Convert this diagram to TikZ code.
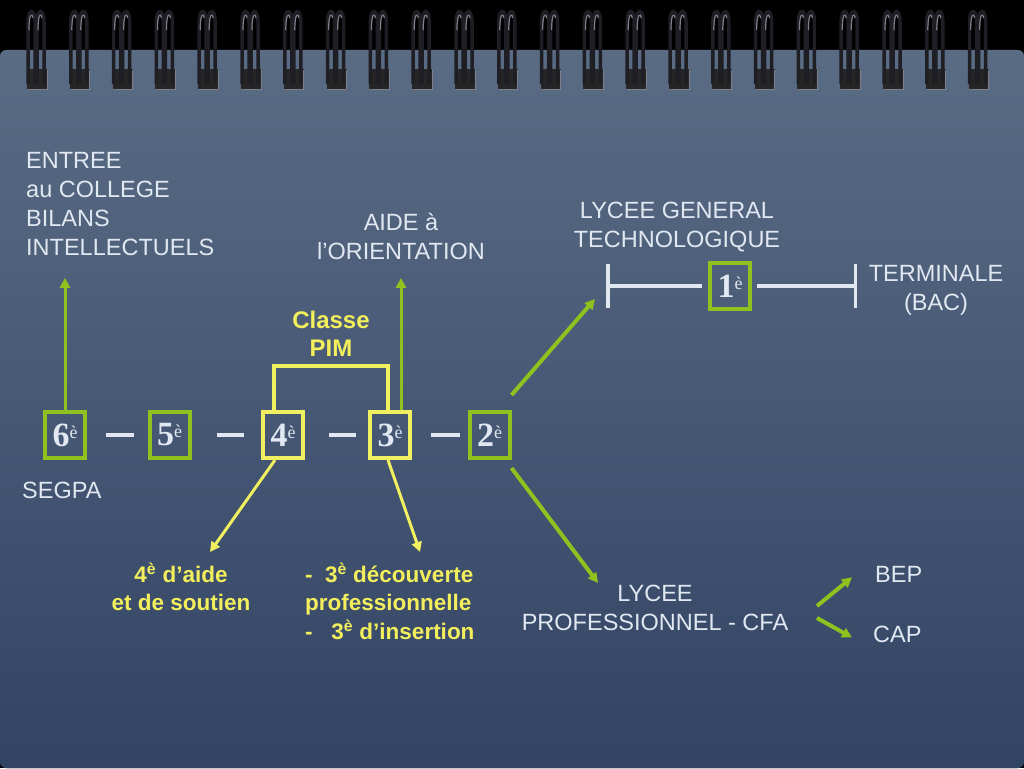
\documentclass[tikz,border=0pt]{standalone}
\usepackage{fontspec}
\setmainfont{Liberation Sans}
\newfontfamily\serifbf{Liberation Serif}
\usetikzlibrary{arrows.meta}
\definecolor{craie}{RGB}{226,232,242}
\definecolor{vert}{RGB}{141,194,31}
\definecolor{jaune}{RGB}{240,240,96}
\definecolor{jaunetxt}{RGB}{242,238,92}
\definecolor{pagehaut}{RGB}{90,108,132}
\definecolor{pagemil}{RGB}{68,86,112}
\definecolor{pagebas}{RGB}{50,68,100}
\definecolor{anneau}{RGB}{30,30,36}
\definecolor{reflet}{RGB}{125,127,138}
\newcommand\niveau[1]{#1\raisebox{8pt}{\fontsize{18}{18}\selectfont\mdseries è}}
\tikzset{
  classe/.style={draw=#1, line width=4pt, minimum width=40pt, minimum height=46pt,
    inner sep=0pt, text=craie, font=\serifbf\bfseries\fontsize{34}{34}\selectfont},
  blanc/.style={text=craie, inner sep=0pt, font=\fontsize{23.5}{29}\selectfont, align=center},
  jaunebf/.style={text=jaunetxt, inner sep=0pt, font=\bfseries\fontsize{22.5}{28.5}\selectfont, align=center},
  trait/.style={draw=craie, line width=3.5pt},
  fleche/.style={draw=#1, line width=3pt, -{Triangle[length=10pt,width=10pt]}},
}
\begin{document}
\begin{tikzpicture}[x=1pt, y=-1pt]
\useasboundingbox (0,0) rectangle (1024,768);
% fond et carnet
\fill[black] (0,0) rectangle (1024,768);
\fill[rounded corners=6pt, top color=pagehaut, middle color=pagemil, bottom color=pagebas]
  (0,768) -- (0,50) -- (1024,50) -- (1024,768) -- cycle;
\foreach \i in {0,...,22} {
  \pgfmathsetmacro\cx{37+42.8*\i}
  \fill[black!85] (\cx-10,69) rectangle (\cx+10,89);
  \draw[reflet, line width=1pt] (\cx+10,70) -- (\cx+10,89) -- (\cx-9,89);
  \foreach \dx in {-9,0} {
    \draw[anneau, line width=3.5pt] (\cx+\dx,84) -- (\cx+\dx,22)
      .. controls (\cx+\dx,8) and (\cx+\dx+7,8) .. (\cx+\dx+7,22) -- (\cx+\dx+7,84);
    \draw[reflet, line width=1.2pt] (\cx+\dx+1,30) .. controls (\cx+\dx+1,14) and (\cx+\dx+4,12) .. (\cx+\dx+5,18);
  }
}
% classes
\node[classe=vert] (b6) at (65,435) {\niveau{6}};
\node[classe=vert] (b5) at (169.5,435) {\niveau{5}};
\node[classe=jaune] (b4) at (283,435) {\niveau{4}};
\node[classe=jaune] (b3) at (390,435) {\niveau{3}};
\node[classe=vert] (b2) at (489.5,435) {\niveau{2}};
\node[classe=vert] (b1) at (730,286) {\niveau{1}};
\draw[trait, shorten <=19pt, shorten >=14pt] (b6) -- (b5);
\draw[trait, shorten <=25pt, shorten >=17pt] (b5) -- (b4);
\draw[trait, shorten <=24pt, shorten >=12pt] (b4) -- (b3);
\draw[trait, shorten <=19pt, shorten >=8pt] (b3) -- (b2);
% textes
\node[blanc, align=left, anchor=north west] (entree) at (26,152) {ENTREE\\au COLLEGE\\BILANS\\INTELLECTUELS};
\node[blanc, anchor=north] (aide) at (401,213) {AIDE à\\l’ORIENTATION};
\node[blanc, anchor=north] (lycgen) at (677,202) {LYCEE GENERAL\\TECHNOLOGIQUE};
\node[blanc, anchor=north] (term) at (936,265) {TERMINALE\\(BAC)};
\node[blanc, anchor=north west] (segpa) at (22,482) {SEGPA};
\node[blanc, anchor=north] (lycpro) at (655,585) {LYCEE\\PROFESSIONNEL - CFA};
\node[blanc, anchor=north west] (bep) at (875,566) {BEP};
\node[blanc, anchor=north west] (cap) at (873,626) {CAP};
\node[jaunebf, font=\bfseries\fontsize{24}{28}\selectfont, anchor=north] (pim) at (331,311) {Classe\\PIM};
\node[jaunebf, anchor=north] (aide4) at (181,563) {4\textsuperscript{è} d’aide\\et de soutien};
\node[jaunebf, align=left, anchor=north west] (decouv) at (305,563)
  {-\ \ 3\textsuperscript{è} découverte\\professionnelle\\-\ \ \ 3\textsuperscript{è} d’insertion};
% lycee general
\coordinate (lbar) at (606,286);
\coordinate (rbar) at (857,286);
\draw[trait, {Bar[width=44pt]}-, shorten >=6pt] (lbar) -- (b1);
\draw[trait, {Bar[width=44pt]}-, shorten >=5pt] (rbar) -- (b1);
% liens
\draw[fleche=vert, shorten >=22pt] (b6.north) -- (b6.north |- entree.south);
\draw[fleche=vert, shorten >=18pt] (b3.north -| aide.south) -- (aide.south);
\draw[jaune, line width=3.5pt] ([xshift=-9pt]b4.north) -- ++(0,-44) -| ([xshift=-2pt]b3.north);
\draw[fleche=jaune] ([xshift=-8pt]b4.south) -- ([xshift=29pt, yshift=11pt]aide4.north);
\draw[fleche=jaune] ([xshift=-2pt]b3.south) -- ([xshift=115pt, yshift=11pt]decouv.north west);
\draw[fleche=vert, line width=4pt] ([yshift=15pt]b2.north east) -- ([xshift=-11pt, yshift=-13pt]lbar);
\draw[fleche=vert, line width=4pt] ([yshift=-8pt]b2.south east) -- ([xshift=-57pt, yshift=2pt]lycpro.north);
\coordinate (fourche) at (817,612);
\draw[fleche=vert, line width=4pt] ([yshift=6pt]fourche) -- ([xshift=-23pt, yshift=-3pt]bep.west);
\draw[fleche=vert, line width=4pt] ([yshift=-6pt]fourche) -- ([xshift=-21pt, yshift=-3pt]cap.west);
\end{tikzpicture}
\end{document}
